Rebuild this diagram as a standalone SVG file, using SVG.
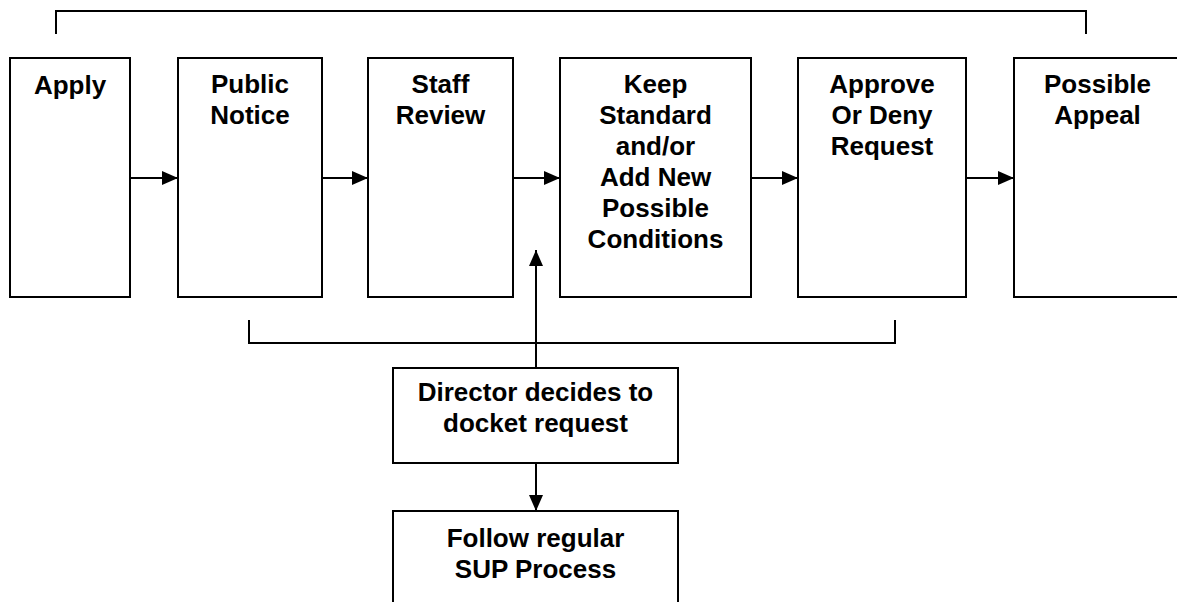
<svg xmlns="http://www.w3.org/2000/svg" width="1177" height="602" viewBox="0 0 1177 602">
<style>
.box{fill:#fff;stroke:#000;stroke-width:2}
.ln{fill:none;stroke:#000;stroke-width:2}
text{font-family:"Liberation Sans",Arial,sans-serif;font-weight:bold;font-size:26px;text-anchor:middle;fill:#000}
</style>
<defs>
<marker id="ah" viewBox="0 0 16 14" refX="16" refY="7" markerWidth="16" markerHeight="14" markerUnits="userSpaceOnUse" orient="auto">
<path d="M0,0 L16,7 L0,14 Z" fill="#000"/>
</marker>
</defs>
<rect width="1177" height="602" fill="#fff"/>
<g id="connectors">
<path class="ln" d="M56,34 V11 H1086 V34"/>
<path class="ln" d="M249,320 V343 H895 V320"/>
<line class="ln" x1="130" y1="178" x2="178" y2="178" marker-end="url(#ah)"/>
<line class="ln" x1="322" y1="178" x2="368" y2="178" marker-end="url(#ah)"/>
<line class="ln" x1="513" y1="178" x2="560" y2="178" marker-end="url(#ah)"/>
<line class="ln" x1="751" y1="178" x2="798" y2="178" marker-end="url(#ah)"/>
<line class="ln" x1="966" y1="178" x2="1014" y2="178" marker-end="url(#ah)"/>
<line class="ln" x1="536" y1="368" x2="536" y2="250" marker-end="url(#ah)"/>
<line class="ln" x1="536" y1="463" x2="536" y2="511" marker-end="url(#ah)"/>
</g>
<g id="apply">
<rect class="box" x="10" y="58" width="120" height="239"/>
<text x="70" y="94">Apply</text>
</g>
<g id="public-notice">
<rect class="box" x="178" y="58" width="144" height="239"/>
<text x="250" y="93">Public</text>
<text x="250" y="124">Notice</text>
</g>
<g id="staff-review">
<rect class="box" x="368" y="58" width="145" height="239"/>
<text x="440.5" y="93">Staff</text>
<text x="440.5" y="124">Review</text>
</g>
<g id="keep-standard">
<rect class="box" x="560" y="58" width="191" height="239"/>
<text x="655.5" y="93">Keep</text>
<text x="655.5" y="124">Standard</text>
<text x="655.5" y="155">and/or</text>
<text x="655.5" y="186">Add New</text>
<text x="655.5" y="217">Possible</text>
<text x="655.5" y="248">Conditions</text>
</g>
<g id="approve-deny">
<rect class="box" x="798" y="58" width="168" height="239"/>
<text x="882" y="93">Approve</text>
<text x="882" y="124">Or Deny</text>
<text x="882" y="155">Request</text>
</g>
<g id="possible-appeal">
<rect class="box" x="1014" y="58" width="168" height="239"/>
<text x="1097.5" y="93">Possible</text>
<text x="1097.5" y="124">Appeal</text>
</g>
<g id="director">
<rect class="box" x="393" y="368" width="285" height="95"/>
<text x="535.5" y="401">Director decides to</text>
<text x="535.5" y="432">docket request</text>
</g>
<g id="follow-sup">
<rect class="box" x="393" y="511" width="285" height="100"/>
<text x="535.5" y="547">Follow regular</text>
<text x="535.5" y="578">SUP Process</text>
</g>
</svg>
